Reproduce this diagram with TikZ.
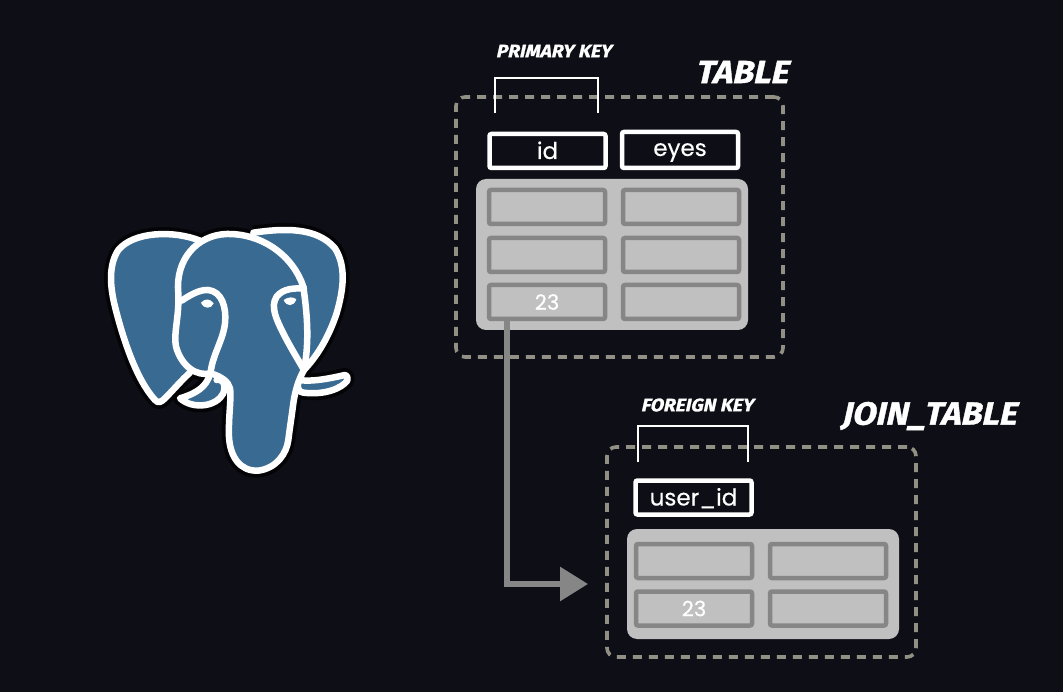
\documentclass[tikz,border=0pt]{standalone}
\usepackage{xcolor}
\usepackage{fontspec}
\usepackage{tikz}
\usetikzlibrary{arrows.meta,positioning}
\setmainfont{Poppins}[FakeBold=0.4]
\newfontfamily\headfont[FakeSlant=0.22,FakeBold=1.2,FakeStretch=1.06]{Fira Sans}
\definecolor{bgdark}{RGB}{14,14,22}
\definecolor{halodark}{RGB}{4,4,7}
\definecolor{pgblue}{RGB}{57,106,146}
\definecolor{panelgrey}{RGB}{192,192,192}
\definecolor{cellgrey}{RGB}{134,134,134}
\definecolor{dashgrey}{RGB}{146,144,132}
\tikzset{
  framebox/.style={draw=dashgrey,line width=3.6pt,dash pattern=on 9pt off 7pt,rounded corners=9pt,outer sep=0pt},
  panelbox/.style={fill=panelgrey,rounded corners=10pt,outer sep=0pt},
  cellbox/.style={draw=cellgrey,line width=4.5pt,rounded corners=2pt,minimum width=116pt,minimum height=34pt,text=white,font=\fontsize{21}{21}\selectfont,inner sep=0pt,outer sep=0pt},
  headbox/.style={draw=white,line width=4.5pt,rounded corners=2pt,minimum width=116pt,minimum height=34pt,text=white,font=\fontsize{23}{23}\selectfont,inner sep=0pt,outer sep=0pt,text height=17pt,text depth=1pt},
  keylabel/.style={text=white,font=\headfont\bfseries\fontsize{18}{18}\selectfont,inner sep=0pt},
  tablelabel/.style={text=white,font=\headfont\bfseries\fontsize{32}{32}\selectfont,inner sep=0pt},
  keybracket/.style={draw=white,line width=2pt},
  fkarrow/.style={draw=cellgrey,line width=6pt,-{Triangle[length=28pt,width=33pt]}},
  elehalo/.style={draw=halodark,line width=14pt,line join=round},
  eleline/.style={draw=white,line width=6.5pt,line join=round,line cap=round},
}
% elephant outlines
\newcommand{\earleft}{(330,92) .. controls (250,60) and (130,65) .. (85,120) .. controls (55,165) and (60,230) .. (75,290) .. controls (100,390) and (140,510) .. (195,570) .. controls (205,582) and (215,575) .. (225,565) .. controls (250,540) and (275,510) .. (300,488)}
\newcommand{\earright}{(490,68) .. controls (580,55) and (680,50) .. (735,115) .. controls (770,170) and (760,240) .. (740,310) .. controls (715,385) and (680,440) .. (642,480)}
\newcommand{\tuskleft}{(360,492) .. controls (350,530) and (320,550) .. (270,565) .. controls (310,600) and (380,590) .. (400,550) .. controls (410,520) and (395,505) .. (380,510)}
\newcommand{\tuskright}{(625,510) .. controls (620,530) and (625,548) .. (640,548) .. controls (705,556) and (755,535) .. (772,512) .. controls (774,500) and (770,495) .. (765,495) .. controls (700,510) and (660,515) .. (625,510)}
\newcommand{\headbody}{(265,250) .. controls (255,150) and (320,75) .. (410,72) .. controls (520,70) and (610,140) .. (640,230) .. controls (650,300) and (660,390) .. (642,480) .. controls (625,510) and (615,545) .. (610,580) .. controls (605,620) and (600,650) .. (595,690) .. controls (590,730) and (560,775) .. (505,782) .. controls (450,785) and (420,740) .. (417,680) .. controls (415,620) and (425,560) .. (420,535) .. controls (415,515) and (395,500) .. (362,490) .. controls (320,500) and (275,470) .. (258,410) .. controls (250,370) and (268,320) .. (265,250) -- cycle}

\begin{document}
\begin{tikzpicture}[x=1pt,y=-1pt]
\useasboundingbox (0,0) rectangle (1063,692);
\fill[bgdark] (0,0) rectangle (1063,692);
% elephant
\begin{scope}[shift={(90,210)},x=0.3333pt,y=-0.3333pt]
\path[elehalo] \earleft;
\path[elehalo] \earright;
\path[elehalo] \tuskleft;
\path[elehalo] \tuskright;
\path[elehalo] \headbody;
\path[eleline,fill=pgblue] \earleft;
\path[eleline,fill=pgblue] \earright;
\path[eleline,fill=pgblue] \tuskleft;
\path[eleline,fill=pgblue] \tuskright;
\path[eleline,fill=pgblue] \headbody;
\draw[eleline] (275,272) .. controls (300,255) and (330,238) .. (355,240) .. controls (395,245) and (410,290) .. (405,340) .. controls (400,390) and (365,440) .. (362,490);
\draw[eleline] (642,235) .. controls (610,235) and (580,235) .. (560,260) .. controls (540,290) and (560,330) .. (580,370) .. controls (600,410) and (625,450) .. (642,480);
\fill[white] (333,278) .. controls (345,265) and (360,265) .. (371,280) .. controls (365,298) and (340,298) .. (333,278) -- cycle;
\fill[white] (581,270) .. controls (595,260) and (610,260) .. (619,268) .. controls (612,290) and (590,292) .. (581,270) -- cycle;
\end{scope}
% top table
\node[framebox,minimum width=327pt,minimum height=260pt] (tableframe) at (619.5,227) {};
\node[panelbox,minimum width=272pt,minimum height=151pt] (tablepanel) at (612,254.5) {};
\node[headbox] (idhead) at (547.5,151) {id};
\node[headbox,minimum height=36pt,text height=14pt,text depth=2pt] (eyeshead) at (680,150) {eyes};
\foreach \r/\y in {1/207,2/255,3/302}
  \foreach \c/\x in {1/547,2/681}
    \node[cellbox] (tab\r\c) at (\x,\y) {};
\node[text=white,font=\fontsize{21}{21}\selectfont,inner sep=0pt] (tabval) at (tab31) {23};
% join table
\node[framebox,minimum width=309pt,minimum height=210pt] (joinframe) at (761.5,552) {};
\node[panelbox,minimum width=272pt,minimum height=110pt] (joinpanel) at (763,584) {};
\node[headbox] (userhead) at (693.5,497.5) {user\_id};
\foreach \r/\y in {1/561,2/608.5}
  \foreach \c/\x in {1/694,2/828}
    \node[cellbox] (join\r\c) at (\x,\y) {};
\node[text=white,font=\fontsize{21}{21}\selectfont,inner sep=0pt] (joinval) at (join21) {23};
% labels
\node[keylabel] (pklabel) at (553.5,51) {PRIMARY KEY};
\node[keylabel] (fklabel) at (697,405) {FOREIGN KEY};
\node[tablelabel] (tablelabel) at (741.5,72) {TABLE};
\node[tablelabel] (joinlabel) at (928.5,416) {JOIN\_TABLE};
% brackets
\coordinate (pkleft) at (495,113);
\coordinate (pkright) at (598,113);
\coordinate (fkleft) at (638,462);
\coordinate (fkright) at (748,462);
\draw[keybracket] (pkleft) -- ++(0,-35) -| (pkright);
\draw[keybracket] (fkleft) -- ++(0,-36) -| (fkright);
% key arrow
\coordinate (fkend) at (588,584);
\draw[fkarrow] ([xshift=-40pt]tab31.south) |- (fkend);
\end{tikzpicture}
\end{document}
